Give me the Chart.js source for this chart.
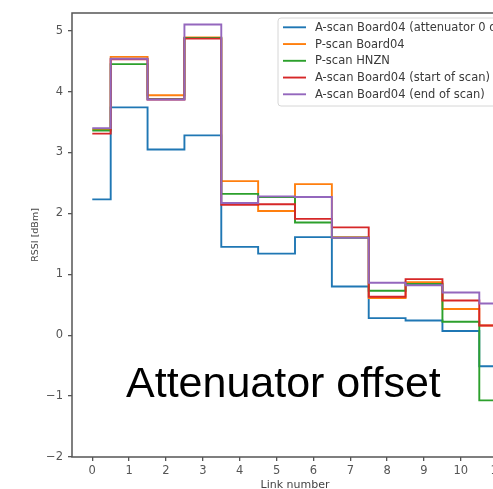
<!DOCTYPE html>
<html>
<head>
<meta charset="utf-8">
<title>RSSI per link</title>
<script src="https://cdn.jsdelivr.net/npm/chart.js@4.4.1/dist/chart.umd.min.js"></script>
<style>
  html, body { margin: 0; padding: 0; background: #fff; }
  .wrap { position: relative; width: 493px; height: 489px; overflow: hidden; }
  .wrap canvas { position: absolute; left: 0; top: 0; }
  .note {
    position: absolute; left: 126px; top: 361px;
    font: 43px/1 'Liberation Sans', Arial, sans-serif;
    color: #000; white-space: nowrap;
  }
</style>
</head>
<body>
<div class="wrap">
  <canvas id="rssiChart" width="540" height="489" style="width:540px;height:489px"></canvas>
  <div class="note">Attenuator offset</div>
</div>
<script>
/* ═══ RSSI per link – step plot ═══ */
(function () {
  var LINKS = [0, 1, 2, 3, 4, 5, 6, 7, 8, 9, 10, 11];
  var X_TICKS = [0, 1, 2, 3, 4, 5, 6, 7, 8, 9, 10, 11];
  var Y_TICKS = [-2, -1, 0, 1, 2, 3, 4, 5];

  var LABELS = [
    'A-scan Board04 (attenuator 0 dB)',
    'P-scan Board04',
    'P-scan HNZN',
    'A-scan Board04 (start of scan)',
    'A-scan Board04 (end of scan)'
  ];

  var ascanAtt0   = [2.23, 3.74, 3.05, 3.28, 1.45, 1.34, 1.61, 0.80, 0.28, 0.24, 0.07, -0.51];
  var pscanBoard  = [3.38, 4.57, 3.94, 4.89, 2.53, 2.04, 2.48, 1.61, 0.61, 0.87, 0.43, 0.16];
  var pscanHnzn   = [3.36, 4.45, 3.88, 4.88, 2.32, 2.27, 1.85, 1.60, 0.73, 0.84, 0.22, -1.07];
  var ascanStart  = [3.31, 4.53, 3.87, 4.87, 2.14, 2.15, 1.91, 1.77, 0.63, 0.92, 0.57, 0.16];
  var ascanEnd    = [3.40, 4.54, 3.87, 5.10, 2.17, 2.28, 2.27, 1.60, 0.86, 0.82, 0.70, 0.52];

  var SERIES = [ascanAtt0, pscanBoard, pscanHnzn, ascanStart, ascanEnd];
  var COLORS = ['#1f77b4', '#ff7f0e', '#2ca02c', '#d62728', '#9467bd'];

  var FONT = "'DejaVu Sans', sans-serif";
  var AXIS = '#555';

  var datasets = SERIES.map(function (vals, i) {
    return {
      label: LABELS[i],
      data: vals.map(function (v, k) { return { x: LINKS[k], y: v }; }),
      borderColor: COLORS[i],
      borderWidth: 1.9,
      stepped: 'middle',
      pointRadius: 0,
      fill: false,
      order: SERIES.length - i   // last series on top
    };
  });

  /* ── spines: left, bottom, top (right one runs past the edge) ── */
  var framePlugin = {
    id: 'frame',
    beforeDatasetsDraw: function (chart) {
      var c = chart.ctx, a = chart.chartArea;
      c.save();
      c.strokeStyle = AXIS;
      c.lineWidth = 1.5;
      c.beginPath();
      c.moveTo(a.left, a.bottom); c.lineTo(a.left, a.top);
      c.lineTo(a.right, a.top); c.lineTo(a.right, a.bottom);
      c.closePath();
      c.stroke();
      c.restore();
    }
  };

  /* ── legend box, upper right inside the axes ── */
  var legendPlugin = {
    id: 'innerLegend',
    afterDatasetsDraw: function (chart) {
      var c = chart.ctx;
      var bx = 278, by = 18, bw = 233, bh = 88, r = 3;
      c.save();
      c.beginPath();
      c.moveTo(bx + r, by);
      c.arcTo(bx + bw, by, bx + bw, by + bh, r);
      c.arcTo(bx + bw, by + bh, bx, by + bh, r);
      c.arcTo(bx, by + bh, bx, by, r);
      c.arcTo(bx, by, bx + bw, by, r);
      c.closePath();
      c.fillStyle = 'rgba(255,255,255,0.85)';
      c.fill();
      c.strokeStyle = '#d6d6d6';
      c.lineWidth = 1;
      c.stroke();

      c.font = '11.5px ' + FONT;
      c.textBaseline = 'middle';
      chart.data.datasets.forEach(function (ds, i) {
        var y = 27.3 + i * 16.75;
        c.strokeStyle = ds.borderColor;
        c.lineWidth = 1.9;
        c.beginPath(); c.moveTo(283, y); c.lineTo(306, y); c.stroke();
        c.fillStyle = '#3a3a3a';
        c.fillText(ds.label, 315, y + 0.5);
      });
      c.restore();
    }
  };

  new Chart(document.getElementById('rssiChart'), {
    type: 'line',
    data: { datasets: datasets },
    plugins: [framePlugin, legendPlugin],
    options: {
      responsive: false,
      animation: false,
      events: [],
      layout: { padding: { top: 13, right: 22, left: 0, bottom: 0 } },
      plugins: { legend: { display: false }, tooltip: { enabled: false } },
      scales: {
        x: {
          type: 'linear', min: -0.55, max: 11.55,
          afterFit: function (s) { s.height = 32; },
          afterBuildTicks: function (s) { s.ticks = X_TICKS.map(function (v) { return { value: v }; }); },
          border: { display: false },
          grid: { drawOnChartArea: false, drawTicks: true, tickLength: 4, color: AXIS, lineWidth: 1.3 },
          ticks: { color: '#555', font: { size: 11.5, family: FONT }, padding: 3, maxRotation: 0,
                   callback: function (v) { return String(v); } },
          title: { display: true, text: 'Link number', color: '#444',
                   font: { size: 11, family: FONT, lineHeight: 0.7 }, padding: { top: 0, bottom: 0 } }
        },
        y: {
          type: 'linear', min: -2, max: 5.29,
          afterFit: function (s) { s.width = 72; },
          afterBuildTicks: function (s) { s.ticks = Y_TICKS.map(function (v) { return { value: v }; }); },
          border: { display: false },
          grid: { drawOnChartArea: false, drawTicks: true, tickLength: 4, color: AXIS, lineWidth: 1.3 },
          ticks: { color: '#555', font: { size: 11.5, family: FONT }, padding: 5,
                   callback: function (v) { return String(v).replace('-', '\u2212'); } },
          title: { display: true, text: 'RSSI [dBm]', color: '#444',
                   font: { size: 9.5, family: FONT }, padding: { top: 29.8, bottom: 0 } }
        }
      }
    }
  });
})();
</script>
</body>
</html>
